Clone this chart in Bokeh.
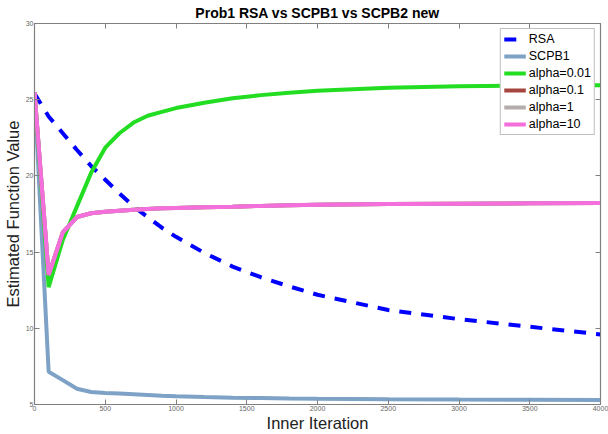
from bokeh.plotting import figure
from bokeh.models import LinearAxis, Range1d, Legend, LegendItem, FixedTicker
from bokeh.embed import file_html
from bokeh.resources import INLINE

iters = [0, 100, 200, 300, 400, 500, 600, 700, 800, 900, 1000, 1200, 1400, 1600, 1800, 2000, 2500, 3000, 3500, 4000]
rsa = [25.4, 23.9, 22.8, 21.7, 20.65, 19.75, 18.85, 18.0, 17.3, 16.6, 16.0, 14.95, 14.05, 13.35, 12.75, 12.2, 11.2, 10.6, 10.1, 9.6]
scpb1 = [25.5, 7.15, 6.6, 6.03, 5.82, 5.76, 5.72, 5.68, 5.63, 5.58, 5.54, 5.49, 5.45, 5.42, 5.39, 5.37, 5.34, 5.32, 5.31, 5.3]
alpha_001 = [25.5, 12.7, 15.8, 18.0, 20.2, 21.85, 22.8, 23.5, 23.95, 24.2, 24.45, 24.8, 25.1, 25.3, 25.45, 25.58, 25.78, 25.88, 25.93, 25.95]
alpha_01 = [25.5, 13.5, 16.3, 17.3, 17.55, 17.65, 17.72, 17.78, 17.83, 17.87, 17.9, 17.95, 17.98, 18.03, 18.07, 18.1, 18.15, 18.18, 18.2, 18.22]
alpha_1 = [25.5, 13.5, 16.3, 17.3, 17.55, 17.65, 17.72, 17.78, 17.83, 17.87, 17.9, 17.95, 17.98, 18.03, 18.07, 18.1, 18.15, 18.18, 18.2, 18.22]
alpha_10 = [25.5, 13.5, 16.3, 17.3, 17.55, 17.65, 17.72, 17.78, 17.83, 17.87, 17.9, 17.95, 17.98, 18.03, 18.07, 18.1, 18.15, 18.18, 18.2, 18.22]

x_ticks = [0, 500, 1000, 1500, 2000, 2500, 3000, 3500, 4000]
y_ticks = [5, 10, 15, 20, 25, 30]

FONT = "Liberation Sans"
AX = "#808080"

p = figure(width=608, height=434, output_backend="svg", toolbar_location=None,
           x_range=Range1d(0, 4000), y_range=Range1d(5, 30),
           min_border_left=0, min_border_right=8, min_border_top=0, min_border_bottom=0,
           title="Prob1 RSA vs SCPB1 vs SCPB2 new")
p.title.align = "center"
p.title.text_font = FONT
p.title.text_font_size = "14px"
p.title.text_font_style = "bold"
p.title.text_color = "#000000"
p.title.standoff = 5
p.xgrid.visible = False
p.ygrid.visible = False
p.outline_line_color = AX
p.outline_line_width = 1.2
p.background_fill_color = "white"
p.border_fill_color = "white"

for ax in (p.xaxis[0], p.yaxis[0]):
    ax.axis_line_color = AX
    ax.major_tick_line_color = AX
    ax.major_tick_in = 5
    ax.major_tick_out = 0
    ax.minor_tick_line_color = None
    ax.major_label_text_font = FONT
    ax.major_label_text_font_size = "7px"
    ax.major_label_text_color = "#666666"
    ax.axis_label_text_font = FONT
    ax.axis_label_text_font_size = "16.5px"
    ax.axis_label_text_font_style = "normal"
    ax.axis_label_text_color = "#222222"
    ax.major_label_standoff = 1

p.xaxis[0].ticker = FixedTicker(ticks=x_ticks)
p.yaxis[0].ticker = FixedTicker(ticks=y_ticks)
p.xaxis[0].axis_label = "Inner Iteration"
p.yaxis[0].axis_label = "Estimated Function Value"
p.xaxis[0].axis_label_standoff = 0
p.yaxis[0].axis_label_standoff = 1

for loc, ticks in (("above", x_ticks), ("right", y_ticks)):
    a = LinearAxis(ticker=FixedTicker(ticks=ticks))
    a.axis_line_color = AX
    a.major_tick_line_color = AX
    a.major_tick_in = 5
    a.major_tick_out = 0
    a.minor_tick_line_color = None
    a.major_label_overrides = {t: "" for t in ticks}
    a.major_label_standoff = 0
    p.add_layout(a, loc)

r_rsa = p.line(iters, rsa, line_color="#0000FF", line_width=4, line_dash="12 10")
r_s1 = p.line(iters, scpb1, line_color="#7DA2C5", line_width=4)
r_a1 = p.line(iters, alpha_001, line_color="#22DD22", line_width=4)
r_a2 = p.line(iters, alpha_01, line_color="#A6463F", line_width=4)
r_a3 = p.line(iters, alpha_1, line_color="#B3ADAD", line_width=4)
r_a4 = p.line(iters, alpha_10, line_color="#F46EDC", line_width=4)

legend = Legend(items=[
    LegendItem(label="RSA", renderers=[r_rsa]),
    LegendItem(label="SCPB1", renderers=[r_s1]),
    LegendItem(label="alpha=0.01", renderers=[r_a1]),
    LegendItem(label="alpha=0.1", renderers=[r_a2]),
    LegendItem(label="alpha=1", renderers=[r_a3]),
    LegendItem(label="alpha=10", renderers=[r_a4]),
], location="top_right")
legend.label_text_font = FONT
legend.label_text_font_size = "12.5px"
legend.label_text_color = "#000000"
legend.glyph_width = 22
legend.glyph_height = 14
legend.label_height = 14
legend.spacing = 3
legend.padding = 3
legend.margin = 5
legend.label_standoff = 3
legend.border_line_color = AX
legend.background_fill_color = "white"
legend.background_fill_alpha = 1
p.add_layout(legend)

open("out.html", "w").write(file_html(p, INLINE))
